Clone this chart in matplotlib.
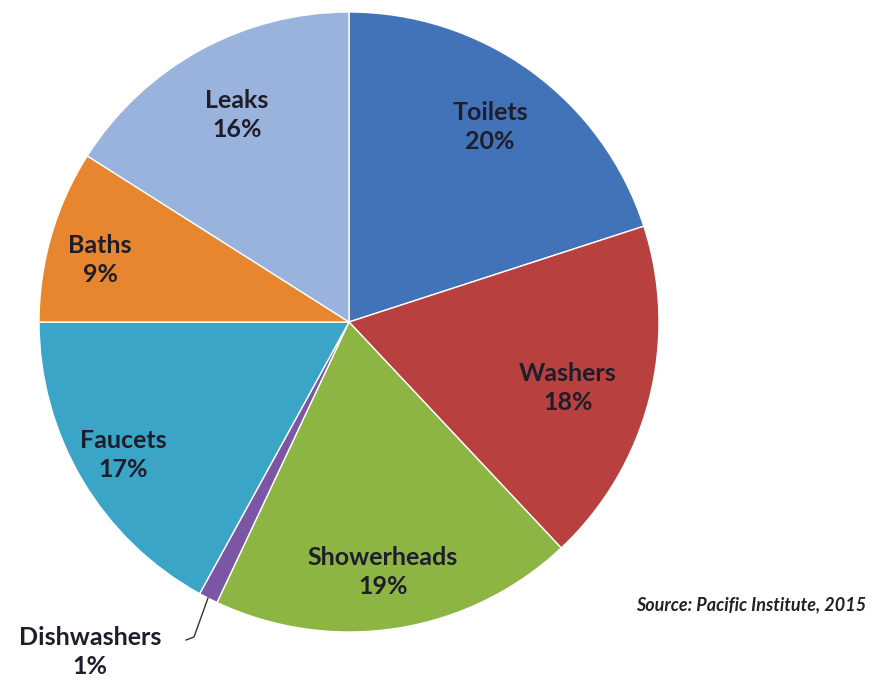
import matplotlib.pyplot as plt

# water use shares (%)
labels = ["Toilets", "Washers", "Showerheads", "Dishwashers", "Faucets", "Baths", "Leaks"]
shares = [20, 18, 19, 1, 17, 9, 16]
colors = ["#4272B8", "#B8413F", "#8DB544", "#7B56A4", "#3AA5C6", "#E8852F", "#9AB3DD"]

W, H = 874, 681
fig = plt.figure(figsize=(W / 100, H / 100), dpi=100)
ax = fig.add_axes([0, 0, 1, 1])
ax.set_aspect("equal")
ax.axis("off")

ax.pie(shares, colors=colors, startangle=90, counterclock=False,
       center=(349, H - 322), radius=310,
       wedgeprops=dict(edgecolor="white", linewidth=1))
ax.set_xlim(0, W)
ax.set_ylim(0, H)

font = dict(family="Lato", fontweight="bold", fontsize=18, color="#1e1e2a",
            ha="center", va="center", linespacing=1.3)
pos = {"Toilets": (490, 127), "Washers": (568, 388), "Showerheads": (383, 572),
       "Faucets": (123, 455), "Baths": (100, 260), "Leaks": (237, 115)}
for lab, s in zip(labels, shares):
    if lab in pos:
        x, y = pos[lab]
        ax.text(x, H - y, f"{lab}\n{s}%", **font)

# dishwashers label outside with leader line
ax.text(90, H - 652, "Dishwashers\n1%", **font)
ax.plot([208, 194, 186], [H - 598, H - 637, H - 640], color="#333333", lw=1)

ax.text(866, H - 605, "Source: Pacific Institute, 2015", family="Lato",
        fontweight="bold", style="italic", fontsize=13, color="#222222",
        ha="right", va="center")

fig.savefig("out.png", dpi=100, facecolor="white")
